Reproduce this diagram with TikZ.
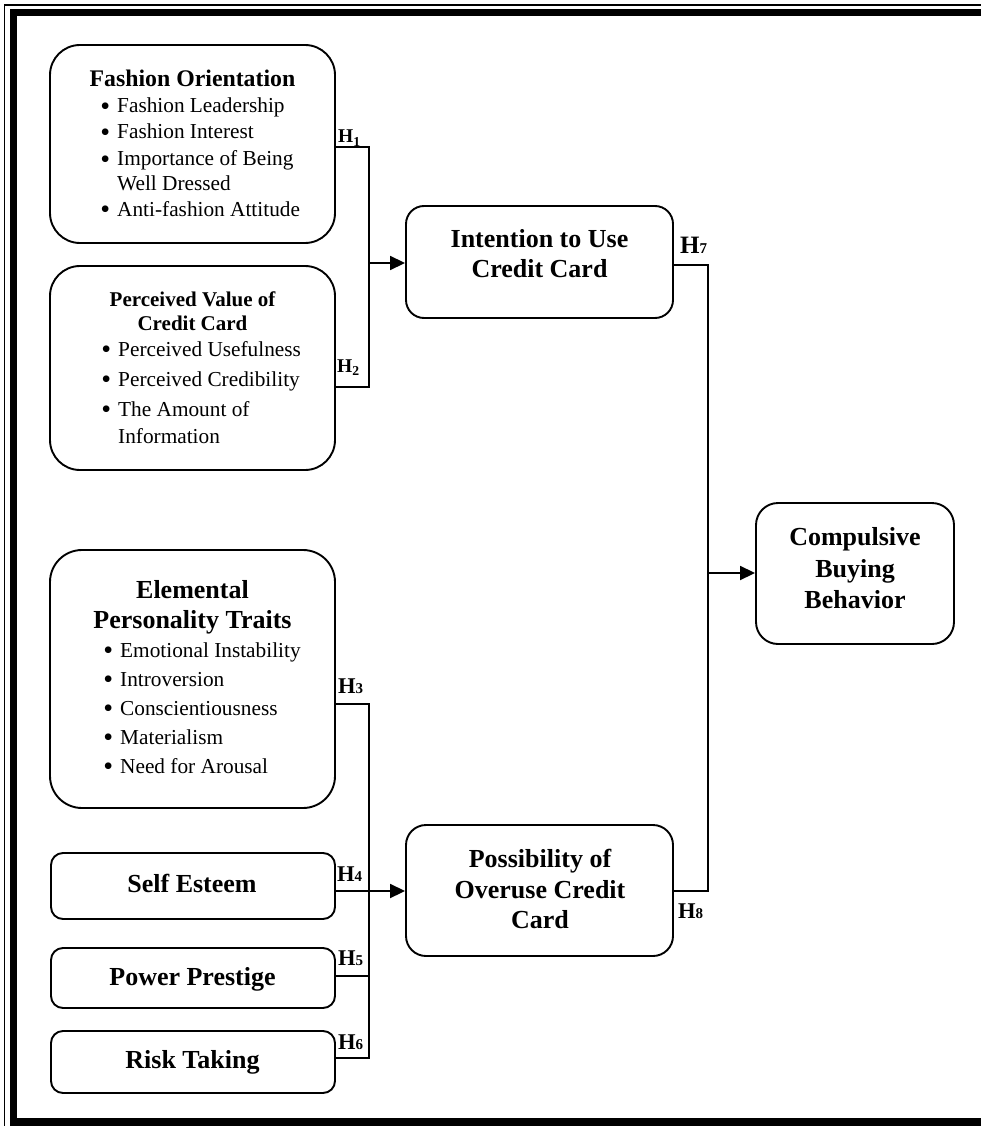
\documentclass[tikz,border=0pt]{standalone}
\usepackage{fontspec}
\setmainfont{Liberation Serif}
\usetikzlibrary{arrows.meta,calc}
\newcommand\bul{\llap{{\fontsize{28}{28}\selectfont\raisebox{-2.5pt}{\textbullet}}\hspace{7pt}}}
\newcommand\hsm[1]{{\fontsize{15}{15}\selectfont #1}}
\begin{document}
\begin{tikzpicture}[x=1pt,y=1pt,
  box/.style={draw=black, line width=1.9pt, fill=white, inner sep=0pt},
  conn/.style={draw=black, line width=1.8pt},
  arr/.style={conn, -{Triangle[length=15pt,width=14pt]}},
  ttl/.style={inner sep=0pt, anchor=base, font=\fontsize{26}{30}\selectfont\bfseries},
  sttl/.style={inner sep=0pt, anchor=base, font=\fontsize{21}{25}\selectfont\bfseries},
  itm/.style={inner sep=0pt, anchor=base west, font=\fontsize{21.3}{25}\selectfont},
  hl/.style={inner sep=0pt, anchor=base west, font=\fontsize{22.5}{26}\selectfont\bfseries},
  hs/.style={inner sep=0pt, anchor=base west, font=\fontsize{19.5}{22}\selectfont\bfseries},
]
\useasboundingbox (0,0) rectangle (981,-1126);
% frame
\draw[line width=1.6pt] (4.5,-1130) -- (4.5,-4.8) -- (990,-4.8);
\draw[line width=6.8pt] (13.2,-1130) -- (13.2,-12.9) -- (990,-12.9);
\draw[line width=9pt] (9.8,-1122) -- (990,-1122);

% boxes
\node[box, minimum width=285pt, minimum height=198pt, rounded corners=30pt] (fo) at (192.5,-144) {};
\node[box, minimum width=285pt, minimum height=204pt, rounded corners=30pt] (pv) at (192.5,-368) {};
\node[box, minimum width=285pt, minimum height=258pt, rounded corners=32pt] (ep) at (192.5,-679) {};
\node[box, minimum width=284pt, minimum height=66pt, rounded corners=12pt] (se) at (193,-886) {};
\node[box, minimum width=284pt, minimum height=60pt, rounded corners=12pt] (pp) at (193,-978) {};
\node[box, minimum width=284pt, minimum height=62pt, rounded corners=12pt] (rt) at (193,-1062) {};
\node[box, minimum width=267pt, minimum height=112pt, rounded corners=18pt] (itu) at (539.5,-262) {};
\node[box, minimum width=267pt, minimum height=131pt, rounded corners=20pt] (poc) at (539.5,-890.5) {};
\node[box, minimum width=198pt, minimum height=141pt, rounded corners=22pt] (cbb) at (855,-573.5) {};

% texts: Fashion Orientation
\node[inner sep=0pt, anchor=base, font=\fontsize{23.8}{28}\selectfont\bfseries] (fo0) at (192.5,-87) {Fashion Orientation};
\node[itm] (fo1) at (117,-113) {\bul Fashion Leadership};
\node[itm] (fo2) at (117,-139) {\bul Fashion Interest};
\node[itm] (fo3) at (117,-166) {\bul Importance of Being};
\node[itm] (fo4) at (117,-190) {Well Dressed};
\node[itm] (fo5) at (117,-216) {\bul Anti-fashion Attitude};

% Perceived Value
\node[sttl] (pv0) at (192.5,-306) {Perceived Value of};
\node[sttl] (pv1) at (192.5,-330) {Credit Card};
\node[itm] (pv2) at (118,-356) {\bul Perceived Usefulness};
\node[itm] (pv3) at (118,-386) {\bul Perceived Credibility};
\node[itm] (pv4) at (118,-416) {\bul The Amount of};
\node[itm] (pv5) at (118,-443) {Information};

% Elemental
\node[ttl] (ep0) at (192.5,-598) {Elemental};
\node[ttl] (ep1) at (192.5,-628) {Personality Traits};
\node[itm] (ep2) at (120,-657) {\bul Emotional Instability};
\node[itm] (ep3) at (120,-686) {\bul Introversion};
\node[itm] (ep4) at (120,-715) {\bul Conscientiousness};
\node[itm] (ep5) at (120,-744) {\bul Materialism};
\node[itm] (ep6) at (120,-773) {\bul Need for Arousal};

\node[ttl] (se0) at (192,-892) {Self Esteem};
\node[ttl] (pp0) at (192.5,-985) {Power Prestige};
\node[ttl] (rt0) at (192.5,-1068) {Risk Taking};

\node[ttl] (itu0) at (539.5,-247) {Intention to Use};
\node[ttl] (itu1) at (539.5,-277) {Credit Card};

\node[ttl] (poc0) at (540,-867) {Possibility of};
\node[ttl] (poc1) at (540,-898) {Overuse Credit};
\node[ttl] (poc2) at (540,-928) {Card};

\node[ttl] (cbb0) at (855,-545) {Compulsive};
\node[ttl] (cbb1) at (855,-577) {Buying};
\node[ttl] (cbb2) at (855,-608) {Behavior};

% connectors
\coordinate (j1) at (369,-147);
\coordinate (j2) at (369,-387);
\coordinate (jm) at (369,-263);
\draw[conn] (fo.east |- j1) -- (j1) -- (j2) -- (pv.east |- j2);
\draw[arr] (jm) -- (itu.west |- jm);

\coordinate (j3) at (369,-704);
\coordinate (j6) at (369,-1058);
\coordinate (j5) at (369,-976);
\coordinate (j4) at (369,-891);
\draw[conn] (ep.east |- j3) -- (j3) -- (j6) -- (rt.east |- j6);
\draw[conn] (pp.east |- j5) -- (j5);
\draw[arr] (se.east |- j4) -- (poc.west |- j4);

\coordinate (j7) at (708,-265);
\coordinate (j8) at (708,-891);
\coordinate (jc) at (708,-573);
\draw[conn] (itu.east |- j7) -- (j7) -- (j8) -- (poc.east |- j8);
\draw[arr] (jc) -- (cbb.west |- jc);

% hypothesis labels
\node[hs] (h1) at (338,-143) {H\textsubscript{1}};
\node[hs] (h2) at (337,-372) {H\textsubscript{2}};
\node[hl] (h3) at (338,-693) {H\hsm{3}};
\node[hl] (h4) at (337,-881) {H\hsm{4}};
\node[hl] (h5) at (338,-965) {H\hsm{5}};
\node[hl] (h6) at (338,-1049) {H\hsm{6}};
\node[hl, font=\fontsize{25}{28}\selectfont\bfseries] (h7) at (680,-253) {H\hsm{7}};
\node[hl] (h8) at (678,-918) {H\hsm{8}};
\end{tikzpicture}
\end{document}
